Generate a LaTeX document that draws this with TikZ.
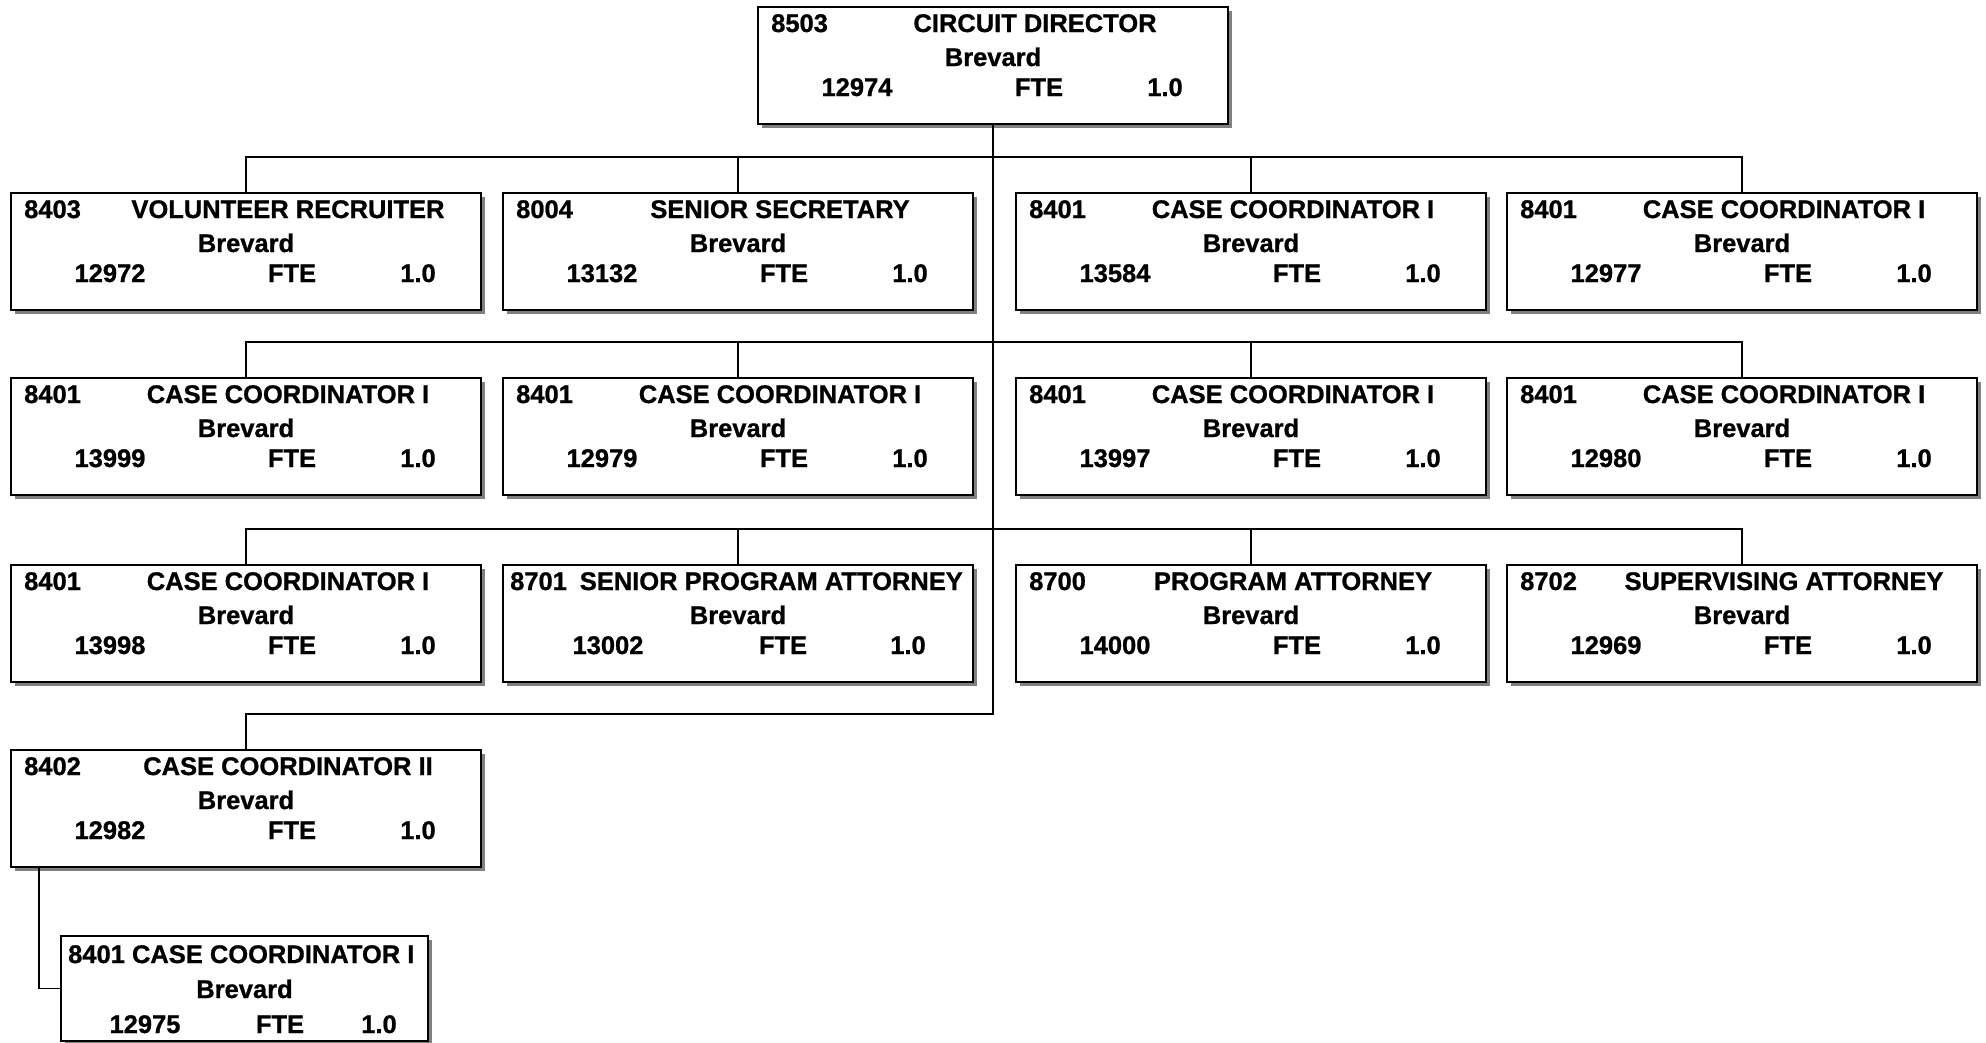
\documentclass[tikz,border=0pt]{standalone}
\usepackage{fontspec}
\setmainfont{Liberation Sans}[BoldFeatures={FakeBold=0.9}]
\usetikzlibrary{shadows}

% one position box: [title offset] name, left, top, code, title, number
\newcommand\posbox[7][278]{%
  \node[posn, anchor=north west] (#2) at (#3,#4) {};
  \node[txt, anchor=base west] (#2-code)  at ([shift={(14,26)}]#2.north west) {#5};
  \node[txt, anchor=base]      (#2-title) at ([shift={(#1,26)}]#2.north west) {#6};
  \node[txt, anchor=base]      (#2-loc)   at ([shift={(0,60)}]#2.north) {Brevard};
  \node[txt, anchor=base]      (#2-num)   at ([shift={(100,90)}]#2.north west) {#7};
  \node[txt, anchor=base]      (#2-fte)   at ([shift={(282,90)}]#2.north west) {FTE};
  \node[txt, anchor=base]      (#2-val)   at ([shift={(408,90)}]#2.north west) {1.0};
}

\begin{document}
\begin{tikzpicture}[
    x=1pt, y=-1pt,
    posn/.style={draw, line width=2pt, fill=white, inner sep=0pt,
        minimum width=470pt, minimum height=117pt,
        drop shadow={shadow xshift=4pt, shadow yshift=-4pt, fill=black!50, opacity=1}},
    txt/.style={font=\fontsize{25.5}{30}\selectfont\bfseries, inner sep=0pt},
    link/.style={draw, line width=1.4pt}
]
    \useasboundingbox (0,0) rectangle (1986,1042);

    % ---- director ----
    \posbox{dir}{757}{6}{8503}{CIRCUIT DIRECTOR}{12974}

    % ---- row 1 ----
    \posbox{r1a}{10}{192}{8403}{VOLUNTEER RECRUITER}{12972}
    \posbox{r1b}{502}{192}{8004}{SENIOR SECRETARY}{13132}
    \posbox{r1c}{1015}{192}{8401}{CASE COORDINATOR I}{13584}
    \posbox{r1d}{1506}{192}{8401}{CASE COORDINATOR I}{12977}

    % ---- row 2 ----
    \posbox{r2a}{10}{377}{8401}{CASE COORDINATOR I}{13999}
    \posbox{r2b}{502}{377}{8401}{CASE COORDINATOR I}{12979}
    \posbox{r2c}{1015}{377}{8401}{CASE COORDINATOR I}{13997}
    \posbox{r2d}{1506}{377}{8401}{CASE COORDINATOR I}{12980}

    % ---- row 3 ----
    \posbox{r3a}{10}{564}{8401}{CASE COORDINATOR I}{13998}
    \node[posn, anchor=north west] (r3b) at (502,564) {};
    \node[txt, anchor=base west] (r3b-code)  at ([shift={(8,26)}]r3b.north west) {8701};
    \node[txt, anchor=base east] (r3b-title) at ([shift={(-11,26)}]r3b.north east) {SENIOR PROGRAM ATTORNEY};
    \node[txt, anchor=base]      (r3b-loc)   at ([shift={(0,60)}]r3b.north) {Brevard};
    \node[txt, anchor=base]      (r3b-num)   at ([shift={(106,90)}]r3b.north west) {13002};
    \node[txt, anchor=base]      (r3b-fte)   at ([shift={(281,90)}]r3b.north west) {FTE};
    \node[txt, anchor=base]      (r3b-val)   at ([shift={(406,90)}]r3b.north west) {1.0};
    \posbox{r3c}{1015}{564}{8700}{PROGRAM ATTORNEY}{14000}
    \posbox{r3d}{1506}{564}{8702}{SUPERVISING ATTORNEY}{12969}

    % ---- row 4 ----
    \posbox{r4a}{10}{749}{8402}{CASE COORDINATOR II}{12982}

    % ---- under case coordinator II ----
    \node[posn, anchor=north west, minimum width=367pt, minimum height=105pt] (r5a) at (60,935) {};
    \node[txt, anchor=base west] (r5a-title) at ([shift={(8,28)}]r5a.north west) {8401 CASE COORDINATOR I};
    \node[txt, anchor=base] (r5a-loc) at ([shift={(0,63)}]r5a.north) {Brevard};
    \node[txt, anchor=base] (r5a-num) at ([shift={(85,98)}]r5a.north west) {12975};
    \node[txt, anchor=base] (r5a-fte) at ([shift={(220,98)}]r5a.north west) {FTE};
    \node[txt, anchor=base] (r5a-val) at ([shift={(319,98)}]r5a.north west) {1.0};

    % ---- connectors ----
    \foreach \b in {r1a,r1b,r1c,r1d,r2a,r2b,r2c,r2d,r3a,r3b,r3c,r3d,r4a} {
        \draw[link] (\b.north) -- ++(0,-35) -| (dir.south);
    }
    \draw[link] (r5a.west) -| ([xshift=29pt]r4a.south west);
\end{tikzpicture}
\end{document}
